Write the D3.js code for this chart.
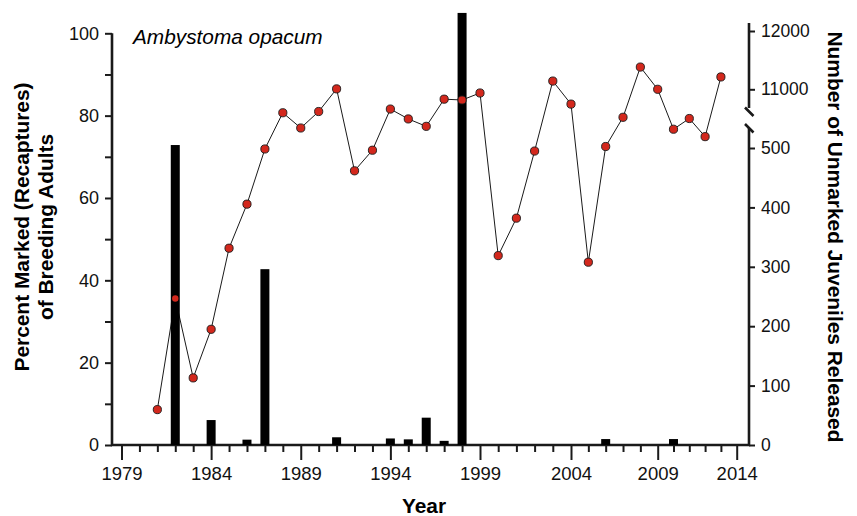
<!DOCTYPE html>
<html>
<head>
<meta charset="utf-8">
<script src="https://cdn.jsdelivr.net/npm/d3@7"></script>
<style>
  body { margin: 0; background: #fff; }
  svg { display: block; font-family: "Liberation Sans", Arial, sans-serif; }
  .axis text { font-family: "Liberation Sans", Arial, sans-serif; fill: #111; }
  .axis line { stroke: #1a1a1a; stroke-width: 2; }
  .frame { stroke: #1a1a1a; stroke-width: 2.6; fill: none; }
  .axtitle { font-weight: bold; font-size: 20.9px; fill: #000; }
</style>
</head>
<body>
<div id="chart"></div>
<script>
(function() {

const w = 857;
const h = 516;

// percent of breeding adults that were marked (recaptures)
const years = [1981, 1982, 1983, 1984, 1985, 1986, 1987, 1988, 1989, 1990, 1991,
               1992, 1993, 1994, 1995, 1996, 1997, 1998, 1999, 2000, 2001, 2002,
               2003, 2004, 2005, 2006, 2007, 2008, 2009, 2010, 2011, 2012, 2013];
const percentMarked = [8.6, 35.6, 16.3, 28.1, 47.8, 58.5, 71.9, 80.7, 77.0, 81.0, 86.5,
                       66.6, 71.6, 81.6, 79.2, 77.4, 84.0, 83.8, 85.5, 46.0, 55.1, 71.4,
                       88.4, 82.8, 44.4, 72.5, 79.6, 91.8, 86.4, 76.7, 79.3, 74.9, 89.4];

// unmarked juveniles released
const releaseYears = [1982, 1984, 1986, 1987, 1991, 1994, 1995, 1996, 1997, 1998, 2006, 2010];
const juveniles = [505, 42, 9, 296, 13, 11, 9.5, 46, 7, 12310, 10, 10];

const leftTicks = [0, 10, 20, 30, 40, 50, 60, 70, 80, 90, 100];
const rightTicksLow = [0, 100, 200, 300, 400, 500];
const rightTicksHigh = [11000, 12000];
const majorYears = [1979, 1984, 1989, 1994, 1999, 2004, 2009, 2014];

const series = years.map(function(y, i) { return {year: y, pct: percentMarked[i]}; });
const bars = releaseYears.map(function(y, i) { return {year: y, n: juveniles[i]}; });

// the printed year axis is not quite even, so the scale is polylinear
const x = d3.scaleLinear()
    .domain([1979, 1999, 2004, 2009, 2014])
    .range([121.5, 480, 571, 657.7, 736.7]);

const yLeft = d3.scaleLinear().domain([0, 100]).range([445, 33.3]);

// broken right axis
const yLow = d3.scaleLinear().domain([0, 500]).range([445, 148]);
const yHigh = d3.scaleLinear().domain([11000, 12000]).range([89.3, 31]);
function yRight(v) { return v <= 600 ? yLow(v) : yHigh(v); }

const axisLeftX = 112, axisRightX = 749, axisBottomY = 445;
const barWidth = 9;

const svg = d3.select("#chart")
    .append("svg")
    .attr("width", w)
    .attr("height", h)
    .attr("viewBox", `0 0 ${w} ${h}`);

// left axis
const gl = svg.append("g")
    .attr("class", "axis")
    .attr("transform", `translate(${axisLeftX},0)`)
    .call(d3.axisLeft(yLeft)
        .tickValues(leftTicks)
        .tickSize(7)
        .tickSizeOuter(0)
        .tickPadding(6)
        .tickFormat(function(d) { return d % 20 === 0 ? d : ""; }));
gl.select(".domain").remove();
gl.selectAll("text").attr("font-size", 18);

// bottom axis
const gb = svg.append("g")
    .attr("class", "axis")
    .attr("transform", `translate(0,${axisBottomY})`)
    .call(d3.axisBottom(x)
        .tickValues(d3.range(1979, 2015))
        .tickSize(7)
        .tickSizeOuter(0)
        .tickFormat(function(d) { return majorYears.indexOf(d) >= 0 ? d : ""; }));
gb.select(".domain").remove();
gb.selectAll(".tick line")
    .attr("y2", function(d) { return majorYears.indexOf(d) >= 0 ? 15 : 7; });
gb.selectAll("text")
    .attr("font-size", 18.5)
    .attr("y", 34.5)
    .attr("dy", null);

// right axis, two pieces
[[yLow, rightTicksLow], [yHigh, rightTicksHigh]].forEach(function(p) {
    const g = svg.append("g")
        .attr("class", "axis")
        .attr("transform", `translate(${axisRightX},0)`)
        .call(d3.axisRight(p[0])
            .tickValues(p[1])
            .tickSize(6)
            .tickSizeOuter(0)
            .tickPadding(6)
            .tickFormat(d3.format("d")));
    g.select(".domain").remove();
    g.selectAll("text").attr("font-size", 17.5);
});

// frame lines
svg.append("path")
    .attr("class", "frame")
    .attr("d", `M${axisLeftX},${yLeft(100)}V${axisBottomY}H${axisRightX}V128`);
svg.append("path")
    .attr("class", "frame")
    .attr("d", `M${axisRightX},23V108`);
// break marks
svg.append("path")
    .attr("class", "frame")
    .attr("stroke-width", 2)
    .attr("d", `M745,107.5L753.5,116M745,124L753.5,132.5`);

// connecting line (drawn under the bars)
const line = d3.line()
    .x(function(d) { return x(d.year); })
    .y(function(d) { return yLeft(d.pct); });

svg.append("path")
    .datum(series)
    .attr("fill", "none")
    .attr("stroke", "#1a1a1a")
    .attr("stroke-width", 1)
    .attr("d", line);

// bars
svg.selectAll("rect.bar")
    .data(bars)
    .enter()
    .append("rect")
    .attr("class", "bar")
    .attr("x", function(d) { return x(d.year) - barWidth / 2; })
    .attr("y", function(d) { return yRight(d.n); })
    .attr("width", barWidth)
    .attr("height", function(d) { return axisBottomY - yRight(d.n); })
    .attr("fill", "#000");

// points
svg.selectAll("circle.pt")
    .data(series)
    .enter()
    .append("circle")
    .attr("class", "pt")
    .attr("cx", function(d) { return x(d.year); })
    .attr("cy", function(d) { return yLeft(d.pct); })
    .attr("r", function(d) { return d.year === 1982 ? 3.2 : 4.1; })
    .attr("fill", "#d3281d")
    .attr("stroke", function(d) { return d.year === 1982 ? "none" : "#1a1a1a"; })
    .attr("stroke-width", 0.9);

// species name
svg.append("text")
    .attr("x", 133)
    .attr("y", 43.5)
    .attr("font-size", 20.8)
    .attr("font-style", "italic")
    .attr("fill", "#000")
    .text("Ambystoma opacum");

// axis titles
const lt = svg.append("text")
    .attr("class", "axtitle")
    .attr("transform", "rotate(-90)")
    .attr("text-anchor", "middle");
lt.append("tspan").attr("x", -227).attr("y", 29).text("Percent Marked (Recaptures)");
lt.append("tspan").attr("x", -227).attr("y", 53).text("of Breeding Adults");

svg.append("text")
    .attr("class", "axtitle")
    .attr("transform", "translate(827.5,237) rotate(90)")
    .attr("text-anchor", "middle")
    .text("Number of Unmarked Juveniles Released");

svg.append("text")
    .attr("class", "axtitle")
    .attr("x", 424)
    .attr("y", 512.5)
    .attr("text-anchor", "middle")
    .text("Year");

})();
</script>
</body>
</html>
